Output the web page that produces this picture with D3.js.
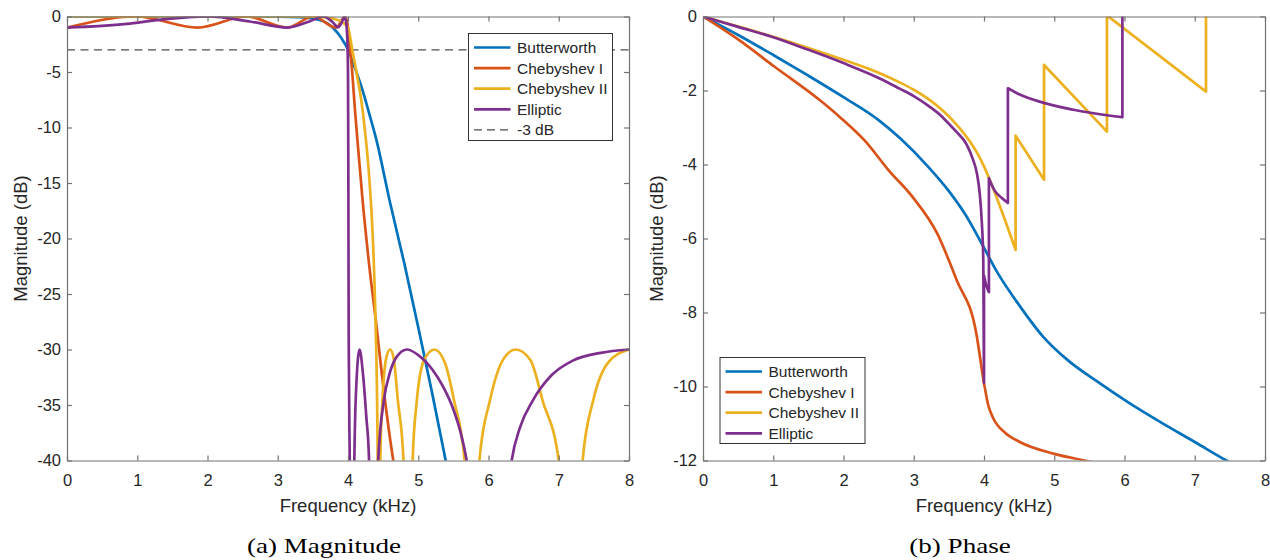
<!DOCTYPE html>
<html>
<head>
<meta charset="utf-8">
<script src="https://cdn.jsdelivr.net/npm/d3@7"></script>
<style>
  body { margin: 0; background: #fff; }
  svg text { font-family: "Liberation Sans", Arial, Helvetica, sans-serif; fill: #262626; }
  svg text.caption { font-family: "Liberation Serif", "Times New Roman", serif; fill: #000; }
</style>
</head>
<body>
<svg id="chart" width="1270" height="560"></svg>
<script>
// ---- data ----
const freqTicks = [0, 1, 2, 3, 4, 5, 6, 7, 8];
const magTicks = [0, -5, -10, -15, -20, -25, -30, -35, -40];
const phaseTicks = [0, -2, -4, -6, -8, -10, -12];
const seriesNames = ['Butterworth', 'Chebyshev I', 'Chebyshev II', 'Elliptic'];
const seriesColors = ['#0072BD', '#D95319', '#EDB120', '#7E2F8E'];
const cutoffLevel = -3;

// magnitude (dB) vs frequency (kHz)
const magButter = [[0, 0], [2.5, 0], [3.0, -0.01], [3.3, -0.05], [3.5, -0.18], [3.7, -0.6], [3.8, -1.1],
  [3.9, -1.9], [4.0, -3.0], [4.1, -4.65], [4.2, -6.5], [4.3, -8.7], [4.4, -11.0], [4.6, -16.8],
  [4.8, -22.2], [5.0, -28.0], [5.2, -34.0], [5.4, -40.3], [5.5, -43.5]];
const magCheby1 = [[0, -1], [0.98, 0], [1.86, -1], [2.56, 0], [3.13, -1], [3.51, 0], [3.83, -1],
  [3.96, 0], [4.0, -1], [4.03, -2.9], [4.06, -5], [4.1, -8.5], [4.15, -12.3], [4.2, -16],
  [4.3, -22.3], [4.4, -27.6], [4.5, -33.2], [4.64, -39.8], [4.7, -42]];
const magCheby2 = [[0, 0], [3.0, 0], [3.5, -0.02], [3.7, -0.1], [3.8, -0.2], [3.9, -0.45], [4.0, -1.0],
  [4.06, -3], [4.12, -5], [4.19, -7.6], [4.25, -10.8], [4.3, -14.3], [4.35, -19.5], [4.39, -27],
  [4.42, -38], [4.44, -70],
  [4.46, -40], [4.49, -34.6], [4.55, -30.6], [4.6, -30], [4.65, -30.8], [4.71, -34.6], [4.79, -40], [4.85, -70],
  [4.92, -40], [4.98, -34.6], [5.08, -31], [5.23, -30], [5.38, -31.2], [5.51, -34.6], [5.66, -40], [5.76, -70],
  [5.87, -40], [6.02, -34.6], [6.2, -31], [6.39, -30], [6.6, -31], [6.77, -34.6], [7.0, -40], [7.16, -70],
  [7.34, -40], [7.49, -34.6], [7.7, -31.2], [8.0, -30]];
const magEllip = [[0, -1], [0.85, -0.66], [1.32, -0.3], [2.0, 0], [2.6, -0.45], [3.14, -1], [3.45, -0.45],
  [3.65, 0], [3.78, -0.5], [3.86, -0.96], [3.92, -0.4], [3.95, 0], [3.975, -0.6], [3.99, -2],
  [4.0, -5], [4.005, -14], [4.01, -29.2], [4.025, -40], [4.06, -70],
  [4.09, -40], [4.12, -33], [4.165, -30], [4.21, -32], [4.26, -36], [4.3, -40], [4.36, -70],
  [4.43, -40], [4.51, -34.6], [4.6, -32], [4.7, -30.6], [4.84, -30], [5.0, -30.5], [5.2, -31.8],
  [5.35, -33.3], [5.5, -35.4], [5.6, -37.4], [5.69, -40], [5.8, -45], [6.0, -70],
  [6.33, -40], [6.45, -37], [6.63, -34.6], [6.9, -32.3], [7.2, -31], [7.6, -30.3], [8.0, -30]];

// phase (rad) vs frequency (kHz); a repeated frequency marks a jump
const phButter = [[0, 0], [0.5, -0.5], [1, -1.04], [1.5, -1.6], [2, -2.18], [2.5, -2.8], [2.81, -3.3],
  [3.2, -4.05], [3.5, -4.72], [3.75, -5.4], [3.94, -6.04], [4.2, -6.95], [4.5, -7.8], [4.84, -8.65],
  [5.2, -9.3], [5.6, -9.85], [6.07, -10.45], [6.5, -10.95], [7.0, -11.5], [7.45, -12.0], [7.6, -12.16]];
const phCheby1 = [[0, 0], [0.5, -0.62], [1.0, -1.33], [1.67, -2.27], [1.95, -2.72], [2.3, -3.35],
  [2.64, -4.15], [2.98, -4.87], [3.33, -5.85], [3.61, -7.12], [3.89, -8.56], [4.0, -9.91], [4.06, -10.5],
  [4.13, -10.85], [4.3, -11.25], [4.51, -11.5], [5.0, -11.82], [5.43, -12.0], [5.6, -12.07]];
const phCheby2 = [[0, 0], [0.5, -0.27], [1, -0.55], [1.5, -0.85], [2.0, -1.17], [2.5, -1.52],
  [2.8, -1.78], [3.0, -1.98], [3.2, -2.22], [3.4, -2.52], [3.6, -2.9], [3.8, -3.38], [3.9, -3.68],
  [4.0, -4.05], [4.1, -4.5], [4.27, -5.35], [4.45, -6.31],
  [4.45, -3.22], [4.855, -4.41],
  [4.855, -1.31], [5.75, -3.11],
  [5.75, 0.03], [7.16, -2.03],
  [7.16, 1.1], [8.0, 0.2]];
const phEllip = [[0, 0], [0.5, -0.28], [1, -0.56], [1.5, -0.9], [2, -1.26], [2.5, -1.66], [2.8, -1.95],
  [3.0, -2.15], [3.2, -2.4], [3.37, -2.65], [3.5, -2.9], [3.61, -3.12], [3.75, -3.45], [3.84, -3.85],
  [3.9, -4.25], [3.94, -4.8], [3.97, -5.6], [3.99, -6.6], [4.0, -9.9],
  [4.0, -7.0], [4.03, -7.25], [4.07, -7.45],
  [4.07, -4.37], [4.15, -4.7], [4.25, -4.9], [4.34, -5.04],
  [4.34, -1.94], [4.5, -2.1], [4.79, -2.3], [5.27, -2.52], [5.97, -2.72],
  [5.97, 0.42], [7.0, 0.15], [8.0, 0.05]];

const magSeries = [magButter, magCheby1, magCheby2, magEllip];
const phaseSeries = [phButter, phCheby1, phCheby2, phEllip];

// ---- drawing ----
const svg = d3.select('#chart');
const axisColor = '#737373';

// monotone pieces joined by straight segments where the frequency repeats
function jumpPath(pts, x, y) {
  const line = d3.line().x(d => x(d[0])).y(d => y(d[1])).curve(d3.curveMonotoneX);
  const pieces = [];
  let cur = [pts[0]];
  for (let i = 1; i < pts.length; i++) {
    if (pts[i][0] === pts[i - 1][0]) { pieces.push(cur); cur = [pts[i]]; }
    else cur.push(pts[i]);
  }
  pieces.push(cur);
  return pieces.map((p, i) => {
    const s = p.length > 1 ? line(p) : `M${x(p[0][0])},${y(p[0][1])}`;
    return i ? 'L' + s.slice(1) : s;
  }).join('');
}

function panel(o) {
  const x = d3.scaleLinear().domain([0, 8]).range([o.left, o.right]);
  const y = d3.scaleLinear().domain(o.yDomain).range([o.bottom, o.top]);
  const g = svg.append('g');

  g.append('clipPath').attr('id', o.id + '-clip')
    .append('rect')
      .attr('x', o.left).attr('y', o.top)
      .attr('width', o.right - o.left).attr('height', o.bottom - o.top);

  const plot = g.append('g').attr('clip-path', `url(#${o.id}-clip)`);

  if (o.dashed !== undefined) {
    plot.append('line')
      .attr('x1', x(0)).attr('x2', x(8))
      .attr('y1', y(o.dashed)).attr('y2', y(o.dashed))
      .attr('stroke', '#4d4d4d').attr('stroke-width', 1.3)
      .attr('stroke-dasharray', '8,5.5');
  }

  o.series.forEach((pts, i) => {
    plot.append('path')
      .attr('d', jumpPath(pts, x, y))
      .attr('fill', 'none')
      .attr('stroke', seriesColors[i])
      .attr('stroke-width', 2.7)
      .attr('stroke-linejoin', 'round');
  });

  // axes with inward ticks on all four sides
  const fmt = d => String(d);
  const styleAxis = sel => {
    sel.select('.domain').attr('stroke', axisColor).attr('stroke-width', 1.2);
    sel.selectAll('.tick line').attr('stroke', axisColor).attr('stroke-width', 1.2);
    sel.selectAll('.tick text').attr('fill', '#262626').style('font-size', '16.5px');
  };
  g.append('g').attr('transform', `translate(0,${o.bottom})`)
    .call(d3.axisBottom(x).tickValues(freqTicks).tickFormat(fmt).tickSize(-5).tickSizeOuter(0).tickPadding(14))
    .call(styleAxis);
  g.append('g').attr('transform', `translate(0,${o.top})`)
    .call(d3.axisTop(x).tickValues(freqTicks).tickSize(-5).tickSizeOuter(0).tickFormat(''))
    .call(styleAxis);
  g.append('g').attr('transform', `translate(${o.left},0)`)
    .call(d3.axisLeft(y).tickValues(o.yTicks).tickFormat(fmt).tickSize(-5).tickSizeOuter(0).tickPadding(6))
    .call(styleAxis);
  g.append('g').attr('transform', `translate(${o.right},0)`)
    .call(d3.axisRight(y).tickValues(o.yTicks).tickSize(-5).tickSizeOuter(0).tickFormat(''))
    .call(styleAxis);

  const cx = (o.left + o.right) / 2;
  g.append('text').attr('x', cx).attr('y', 511.5)
    .attr('text-anchor', 'middle').style('font-size', '18.5px').text('Frequency (kHz)');
  g.append('text')
    .attr('transform', `translate(${o.left - 40.5},${(o.top + o.bottom) / 2}) rotate(-90)`)
    .attr('text-anchor', 'middle').style('font-size', '18.5px').text('Magnitude (dB)');
  g.append('text').attr('class', 'caption')
    .attr('transform', `translate(${o.captionX},552.5) scale(1.23,1)`)
    .attr('text-anchor', 'middle').style('font-size', '22px').text(o.caption);

  // legend
  const L = o.legend;
  const lg = g.append('g').attr('transform', `translate(${L.x},${L.y})`);
  lg.append('rect').attr('width', L.w).attr('height', L.h)
    .attr('fill', '#fff').attr('stroke', '#333').attr('stroke-width', 1);
  L.items.forEach((it, i) => {
    const yy = 14 + i * 20.6;
    lg.append('line').attr('x1', 5.5).attr('x2', 42).attr('y1', yy).attr('y2', yy)
      .attr('stroke', it.color).attr('stroke-width', it.dash ? 1.2 : 2.7)
      .attr('stroke-dasharray', it.dash ? '8,5' : null);
    lg.append('text').attr('x', 48.5).attr('y', yy).attr('dy', '0.35em')
      .style('font-size', '15.5px').text(it.name);
  });
}

const legendItems = seriesNames.map((n, i) => ({ name: n, color: seriesColors[i] }));

panel({
  id: 'mag', left: 67, right: 629, top: 16.5, bottom: 460.5,
  yDomain: [-40, 0], yTicks: magTicks, series: magSeries, dashed: cutoffLevel,
  caption: '(a) Magnitude', captionX: 324,
  legend: { x: 468.5, y: 33.5, w: 144, h: 107,
    items: legendItems.concat([{ name: '-3 dB', color: '#4d4d4d', dash: true }]) }
});

panel({
  id: 'phase', left: 703, right: 1265, top: 16.5, bottom: 460.5,
  yDomain: [-12, 0], yTicks: phaseTicks, series: phaseSeries,
  caption: '(b) Phase', captionX: 960,
  legend: { x: 720, y: 357.5, w: 145, h: 86, items: legendItems }
});
</script>
</body>
</html>
